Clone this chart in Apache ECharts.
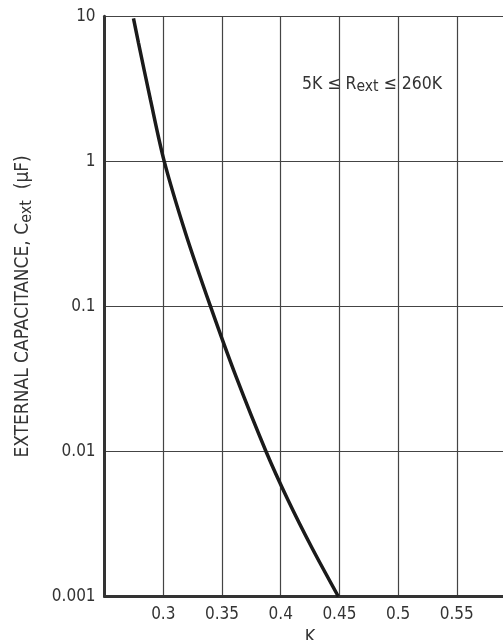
<!DOCTYPE html>
<html>
<head>
<meta charset="utf-8">
<script src="https://cdn.jsdelivr.net/npm/echarts@6/dist/echarts.min.js"></script>
<style>
html,body{margin:0;padding:0;background:#fff;}
#chart{width:503px;height:640px;}
</style>
</head>
<body>
<div id="chart"></div>
<script>
// Data
var kValues = [0.2746, 0.2789, 0.2891, 0.3008, 0.3189, 0.3402, 0.3624, 0.3875, 0.4062, 0.4267, 0.4491];
var capValues = [9.69, 6.54, 2.65, 1.0, 0.321, 0.1, 0.0321, 0.01, 0.00463, 0.00216, 0.001];
var xTicks = [0.3, 0.35, 0.4, 0.45, 0.5, 0.55];
var yTicks = [0.001, 0.01, 0.1, 1, 10];
var xTitle = 'K';
var annotation = {pre: '5K \u2264 R', sub: 'ext', post: ' \u2264 260K'};

var FONT = "'DejaVu Sans Condensed', 'Liberation Sans Narrow', sans-serif";
var chart = echarts.init(document.getElementById('chart'), null, {renderer: 'canvas'});

var seriesData = kValues.map(function (k, i) { return [k, capValues[i]]; });

chart.setOption({
  animation: false,
  backgroundColor: '#fff',
  grid: {left: 104.6, right: -12.5, top: 16.3, bottom: 43.5, containLabel: false, outerBoundsMode: 'none'},
  xAxis: {
    type: 'value', min: 0.25, max: 0.6, interval: 0.05,
    name: xTitle, nameLocation: 'middle', nameGap: 25,
    nameTextStyle: {fontFamily: FONT, fontSize: 18, color: '#333'},
    axisLine: {show: true, onZero: false, lineStyle: {color: '#333', width: 3}},
    axisTick: {show: false},
    axisLabel: {
      fontFamily: FONT, fontSize: 17, color: '#333', margin: 10,
      formatter: function (v) {
        for (var i = 0; i < xTicks.length; i++) { if (Math.abs(v - xTicks[i]) < 1e-6) return String(xTicks[i]); }
        return '';
      }
    },
    splitLine: {show: true, lineStyle: {color: '#444', width: 1.2}}
  },
  yAxis: {
    type: 'log', logBase: 10, min: 0.001, max: 10,
    name: '{n|EXTERNAL CAPACITANCE, C}{s|ext}{n|  (\u00b5F)}',
    nameLocation: 'middle', nameGap: 70,
    nameTextStyle: {
      fontFamily: FONT, color: '#333',
      rich: {
        n: {fontFamily: FONT, fontSize: 19, color: '#333', lineHeight: 24},
        s: {fontFamily: FONT, fontSize: 16, color: '#333', lineHeight: 24, verticalAlign: 'bottom', padding: [8, 0, 0, 0]}
      }
    },
    axisLine: {show: true, lineStyle: {color: '#333', width: 3}},
    axisTick: {show: false},
    axisLabel: {
      fontFamily: FONT, fontSize: 17, color: '#333', margin: 9,
      formatter: function (v) {
        for (var i = 0; i < yTicks.length; i++) { if (Math.abs(Math.log10(v) - Math.log10(yTicks[i])) < 1e-6) return String(yTicks[i]); }
        return '';
      }
    },
    splitLine: {show: true, lineStyle: {color: '#444', width: 1.2}}
  },
  series: [{
    type: 'line',
    data: seriesData,
    smooth: 0.3,
    showSymbol: false,
    lineStyle: {color: '#1a1a1a', width: 3.5},
    z: 5
  }],
  graphic: [{
    type: 'text',
    left: 302, top: 72,
    style: {
      text: '{n|' + annotation.pre + '}{s|' + annotation.sub + '}{n|' + annotation.post + '}',
      rich: {
        n: {fontFamily: FONT, fontSize: 17.5, fill: '#333', lineHeight: 22},
        s: {fontFamily: FONT, fontSize: 15.5, fill: '#333', lineHeight: 22, verticalAlign: 'bottom', padding: [7, 0, 0, 0]}
      }
    }
  }]
});
</script>
</body>
</html>
